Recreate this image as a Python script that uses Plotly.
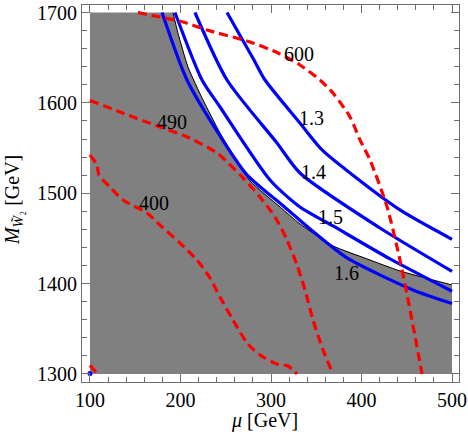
import plotly.graph_objects as go

# Excluded (gray) region boundary
bnd_mu = [191.7, 197.2, 208.3, 224.9, 243.7, 254.7, 276.8, 310.0, 332.0, 368.5, 406.1, 442.5, 500.0]
bnd_M = [1700, 1677.3, 1639.7, 1603.2, 1566.7, 1547.9, 1513.6, 1484.8, 1466.0, 1441.7, 1427.3, 1414.0, 1398.5]

# Blue contours (ratio)
c13_mu = [251.4, 281.2, 293.4, 332.0, 356.4, 387.3, 442.5, 500.0]
c13_M = [1700, 1647.4, 1625.3, 1577.7, 1547.9, 1522.4, 1481.5, 1449.0]
c14_mu = [216.0, 251.4, 306.6, 332.0, 420.4, 500.0]
c14_M = [1700, 1625.3, 1555.6, 1522.4, 1461.5, 1413.5]
c15_mu = [193.9, 223.8, 243.7, 298.9, 332.0, 368.5, 431.5, 500.0]
c15_M = [1700, 1625.3, 1595.4, 1514.7, 1484.8, 1463.8, 1427.3, 1391.5]
c16_mu = [179.6, 207.2, 243.7, 273.5, 313.3, 343.1, 384.0, 456.9, 500.0]
c16_M = [1700, 1625.3, 1563.4, 1520.3, 1486.1, 1460.5, 1428.4, 1393.0, 1378.0]

# Red dashed contours (mass)
r600_mu = [153.0, 177.3, 202.8, 229.3, 276.8, 307.7, 332.0, 354.1, 368.5, 387.3, 398.3, 409.4, 428.2, 442.5, 453.6, 466.9]
r600_M = [1700, 1695.0, 1689.5, 1680.6, 1667.4, 1655.2, 1641.9, 1625.3, 1610.9, 1584.4, 1559.1, 1536.8, 1485.0, 1426.1, 1370.8, 1300]
r490_mu = [100, 133.1, 177.3, 205.0, 240.3, 269.1, 287.8, 304.4, 317.7, 328.7, 337.6, 346.4, 357.5, 368.5]
r490_M = [1602.6, 1589.9, 1573.3, 1563.4, 1544.5, 1516.9, 1495.8, 1473.7, 1448.3, 1420.6, 1393.0, 1359.8, 1326.6, 1300]
r400_mu = [100, 107.7, 109.9, 122.1, 136.5, 163.0, 177.3, 199.4, 218.2, 232.6, 243.6, 258.0, 273.5, 287.8, 306.6, 318.8, 328.7]
r400_M = [1542.3, 1531.3, 1520.2, 1506.9, 1492.5, 1478.1, 1464.8, 1444.9, 1426.1, 1406.2, 1385.2, 1359.7, 1334.3, 1321.0, 1311.0, 1308.8, 1300]
rcorner_mu = [100, 108.5]
rcorner_M = [1309.5, 1300]

# Contour labels
lab_text = ["600", "1.3", "1.4", "1.5", "1.6", "490", "400"]
lab_mu = [330.9, 344.2, 347.5, 365.2, 382.9, 190.6, 170.7]
lab_M = [1654.1, 1583.3, 1523.5, 1473.7, 1411.8, 1578.8, 1489.2]

x_ticks = [100, 200, 300, 400, 500]
y_ticks = [1300, 1400, 1500, 1600, 1700]

GRAY = "rgb(128,128,128)"
BLUE = "rgb(0,0,255)"
RED = "rgb(255,0,0)"
FONT = "Liberation Serif"

fig = go.Figure()

poly_x = [100] + bnd_mu + [500, 100]
poly_y = [1700] + bnd_M + [1300, 1300]
fig.add_trace(go.Scatter(x=poly_x, y=poly_y, mode="lines", fill="toself",
                         fillcolor=GRAY, line=dict(width=0), hoverinfo="skip"))
fig.add_trace(go.Scatter(x=bnd_mu, y=bnd_M, mode="lines", line=dict(color="black", width=1, shape="spline", smoothing=0.6)))

for mx, my in [(c13_mu, c13_M), (c14_mu, c14_M), (c15_mu, c15_M), (c16_mu, c16_M)]:
    fig.add_trace(go.Scatter(x=mx, y=my, mode="lines",
                             line=dict(color=BLUE, width=3.2, shape="spline", smoothing=0.7)))

for mx, my in [(r600_mu, r600_M), (r490_mu, r490_M), (r400_mu, r400_M), (rcorner_mu, rcorner_M)]:
    fig.add_trace(go.Scatter(x=mx, y=my, mode="lines",
                             line=dict(color=RED, width=3.2, dash="9px,5px", shape="spline", smoothing=0.7)))

fig.add_trace(go.Scatter(x=[100], y=[1300.6], mode="markers", marker=dict(color=BLUE, size=5)))

for t, x, y in zip(lab_text, lab_mu, lab_M):
    fig.add_annotation(x=x, y=y, text=t, showarrow=False,
                       font=dict(family=FONT, size=20, color="black"))

# Axis titles
fig.add_annotation(x=0.485, y=-0.102, xref="paper", yref="paper", showarrow=False,
                   text="<i>μ</i> [GeV]", font=dict(family=FONT, size=20, color="black"),
                   xanchor="center", yanchor="middle")
fig.add_annotation(x=-0.18, y=0.483, xref="paper", yref="paper", showarrow=False, textangle=-90,
                   text="<i>M</i><sub><i>W̃</i>₂</sub> [GeV]", font=dict(family=FONT, size=20, color="black"),
                   xanchor="center", yanchor="middle")

axis_common = dict(showgrid=False, zeroline=False, showline=True, linecolor="rgb(110,110,110)",
                   linewidth=1, mirror="allticks", ticks="inside", ticklen=8, tickwidth=1,
                   tickcolor="rgb(110,110,110)", automargin=False,
                   tickfont=dict(family=FONT, size=20, color="black"),
                   minor=dict(ticks="inside", dtick=20, ticklen=5, tickwidth=1, tickcolor="rgb(110,110,110)"))

fig.update_xaxes(range=[91.2, 507.7], tickvals=x_ticks, ticktext=[str(v) for v in x_ticks], **axis_common)
fig.update_yaxes(range=[1291.1, 1708.3], tickvals=y_ticks, ticktext=[str(v) for v in y_ticks], **axis_common)

fig.update_layout(width=468, height=443, showlegend=False,
                  margin=dict(l=82, r=9, t=5, b=61),
                  plot_bgcolor="white", paper_bgcolor="white")

fig.write_html("out.html", config={"displayModeBar": False},
               post_script="document.body.style.margin='0';")
